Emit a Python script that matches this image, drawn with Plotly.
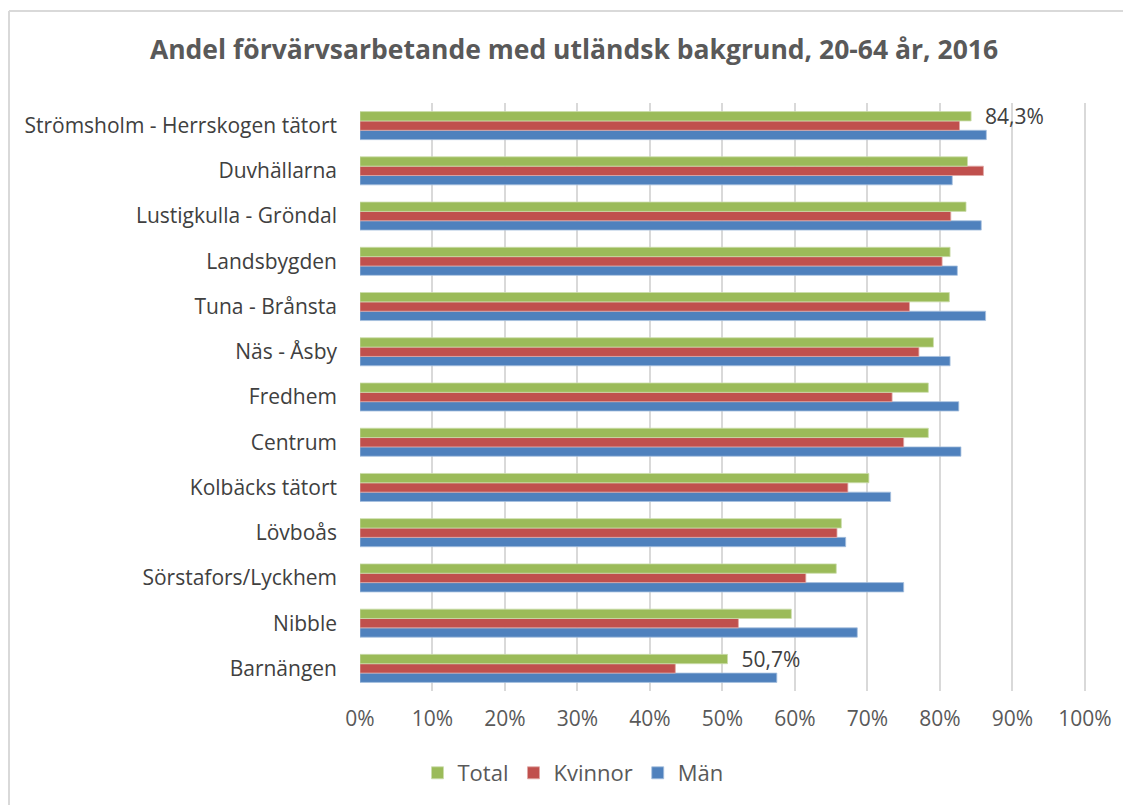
import plotly.graph_objects as go

categories = [
    "Strömsholm - Herrskogen tätort", "Duvhällarna", "Lustigkulla - Gröndal",
    "Landsbygden", "Tuna - Brånsta", "Näs - Åsby", "Fredhem", "Centrum",
    "Kolbäcks tätort", "Lövboås", "Sörstafors/Lyckhem", "Nibble", "Barnängen",
]
total = [84.3, 83.8, 83.6, 81.4, 81.3, 79.1, 78.4, 78.4, 70.2, 66.4, 65.7, 59.5, 50.7]
kvinnor = [82.7, 86.0, 81.5, 80.3, 75.8, 77.1, 73.4, 75.0, 67.3, 65.8, 61.5, 52.2, 43.5]
man = [86.4, 81.7, 85.7, 82.4, 86.3, 81.4, 82.6, 82.9, 73.2, 67.0, 75.0, 68.6, 57.5]
total_labels = ["\u00a0\u00a084,3%", "", "", "", "", "", "", "", "", "", "", "", "\u00a0\u00a050,7%"]
tick_vals = [0, 10, 20, 30, 40, 50, 60, 70, 80, 90, 100]
tick_text = ["0%", "10%", "20%", "30%", "40%", "50%", "60%", "70%", "80%", "90%", "100%"]

OFF = 8  # default page body margin
W, H = 1131 - OFF, 805 - OFF
L = 360 - OFF
T = 103 - OFF
R = W - (1086 - OFF)
B = H - (691 - OFF)
pw, ph = W - L - R, H - T - B

fig = go.Figure()
fig.add_trace(go.Bar(y=categories, x=man, name="Män", orientation="h",
                     marker=dict(color="#4F81BD", line=dict(color="#A7C0DE", width=0.8))))
fig.add_trace(go.Bar(y=categories, x=kvinnor, name="Kvinnor", orientation="h",
                     marker=dict(color="#C0504D", line=dict(color="#E0A8A6", width=0.8))))
fig.add_trace(go.Bar(y=categories, x=total, name="Total", orientation="h",
                     marker=dict(color="#9BBB59", line=dict(color="#CCDDAC", width=0.8)),
                     text=total_labels, textposition="outside", cliponaxis=False,
                     constraintext="none",
                     textfont=dict(family="Open Sans", size=21, color="#404040")))

fig.update_layout(
    width=W, height=H,
    margin=dict(l=L, r=R, t=T, b=B, autoexpand=False),
    paper_bgcolor="white", plot_bgcolor="white",
    barmode="group", bargap=0.38, bargroupgap=0,
    title=dict(text="<b>Andel förvärvsarbetande med utländsk bakgrund, 20-64 år, 2016</b>",
               x=(574 - OFF) / W, xanchor="center", y=1 - (50 - OFF) / H, yanchor="middle",
               font=dict(family="Open Sans", size=26.5, color="#595959")),
    font=dict(family="Open Sans", color="#595959"),
    xaxis=dict(range=[0, 100.15], tickvals=tick_vals, ticktext=tick_text,
               showgrid=True, gridcolor="#D9D9D9", gridwidth=2,
               zeroline=False, showline=False, ticks="",
               ticklabelstandoff=13,
               tickfont=dict(family="Open Sans", size=21, color="#595959")),
    yaxis=dict(categoryorder="array", categoryarray=categories[::-1],
               showgrid=False, zeroline=False, showline=False, ticks="",
               ticklabelstandoff=22,
               tickfont=dict(family="Open Sans", size=21, color="#404040")),
    legend=dict(orientation="h", traceorder="reversed",
                x=(573 - OFF - L) / pw, xanchor="center",
                y=-((773 - OFF) - (T + ph)) / ph, yanchor="middle",
                font=dict(family="Open Sans", size=22, color="#595959"),
                itemwidth=30),
    showlegend=True,
)

# outer chart border (left and top edges visible)
bx = (0 - L) / pw + 1 / pw
by = (H - (11 - OFF) - B) / ph
fig.add_shape(type="line", xref="paper", yref="paper",
              x0=bx, x1=bx, y0=-B / ph, y1=by,
              line=dict(color="#D9D9D9", width=2))
fig.add_shape(type="line", xref="paper", yref="paper",
              x0=bx, x1=(W - L) / pw, y0=by, y1=by,
              line=dict(color="#D9D9D9", width=2))

fig.write_html("out.html")
